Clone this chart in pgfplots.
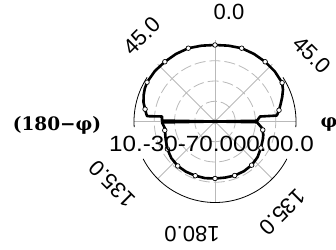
\documentclass[border=0pt]{standalone}
\usepackage{pgfplots}
\pgfplotsset{compat=1.18}
\usepackage{fontspec}
\setmainfont{Liberation Sans}
\newfontfamily\lblfont{DejaVu Serif}
\newcommand\numfont{\fontsize{22}{24}\selectfont}
\begin{document}
\begin{tikzpicture}[x=1pt,y=1pt]
\useasboundingbox (0,0) rectangle (336,249);
\begin{axis}[at={(0,0)}, anchor=south west, x=1pt, y=1pt,
  xmin=-215, xmax=121, ymin=-127.5, ymax=121.5,
  hide axis, clip=false, scale only axis]
% grid rings and spokes
\pgfplotsinvokeforeach{20.25,40.5,60.75}{
  \draw[gray!55, line width=0.8pt, dash pattern=on 11pt off 4pt] (axis cs:0,0) circle[radius=#1pt];
}
\pgfplotsinvokeforeach{0,45,90,135,180,225,270,315}{
  \draw[gray!55, line width=0.8pt] (axis cs:0,0) -- ++(#1:81pt);
}
\draw[gray!70, line width=0.8pt] (axis cs:0,0) circle[radius=2.5pt];
% partial rim
\draw[black, line width=0.8pt] (axis cs:0,0) ++(-4:81pt) arc[start angle=-4, end angle=33, radius=81pt];
\draw[black, line width=0.8pt] (axis cs:0,0) ++(-152.5:81pt) arc[start angle=-152.5, end angle=-27.5, radius=81pt];
\draw[black, line width=0.8pt] (axis cs:0,0) ++(147:81pt) arc[start angle=147, end angle=184, radius=81pt];
% pattern
\addplot[black, line width=2.6pt, line join=round, data cs=polar] coordinates {
(180,0) (179,53) (174.6,53.2) (175.5,68) (174,69) (170,71) (165,74) (160,76)
(155,77.5) (150,78.5) (140,78.5) (130,78) (120,78) (110,78) (100,77)
(90,76.5) (80,77) (70,78) (60,78) (50,78) (40,78) (30,77.5) (25,75)
(20,71.5) (15,68) (10,65) (7,63) (5.5,62) (6.3,45.3) (1,42) (0,0)
(-1,42) (-8,47.5) (-15,50) (-20,51) (-30,53) (-40,55.5)
(-50,57) (-60,57.5) (-70,57.5) (-80,57) (-90,57) (-100,57.5) (-110,57.7)
(-120,58) (-130,58) (-140,57) (-150,55) (-160,52.5) (-165,51.5)
(-172,50.5) (-179,53) (-180,0)
};
\addplot[only marks, data cs=polar, mark=*, mark size=2.3pt,
  mark options={draw=black, fill=white, line width=0.7pt}] coordinates {
(170,71) (150,78.5) (130,78) (110,78) (90,76.5) (70,78) (50,78) (30,77.5)
(10,65) (-10,48.5) (-30,53) (-50,57) (-70,57.5) (-90,57) (-110,57.7)
(-130,58) (-150,55) (-170,51)
};
\end{axis}
% angular labels
\node[font=\numfont] at (229,237.5) {0.0};
\node[font=\numfont, rotate=45] at (142,213) {45.0};
\node[font=\numfont, rotate=-45] at (311.7,194) {45.0};
\node[font=\numfont, rotate=135] at (111.7,65) {135.0};
\node[font=\numfont, rotate=-135] at (282.5,36.5) {135.0};
\node[font=\numfont, rotate=180] at (192,15) {180.0};
% radial labels (overlapping)
\node[font=\numfont, xscale=1.1, inner sep=0pt] at (211.5,105.5) {10.-30-70.000.00.0};
% axis titles
\node[font=\lblfont\bfseries\fontsize{18.5}{20}\selectfont] at (57,124) {(180−φ)};
\node[font=\lblfont\bfseries\fontsize{18.5}{20}\selectfont] at (329,125) {φ};
\end{tikzpicture}
\end{document}
